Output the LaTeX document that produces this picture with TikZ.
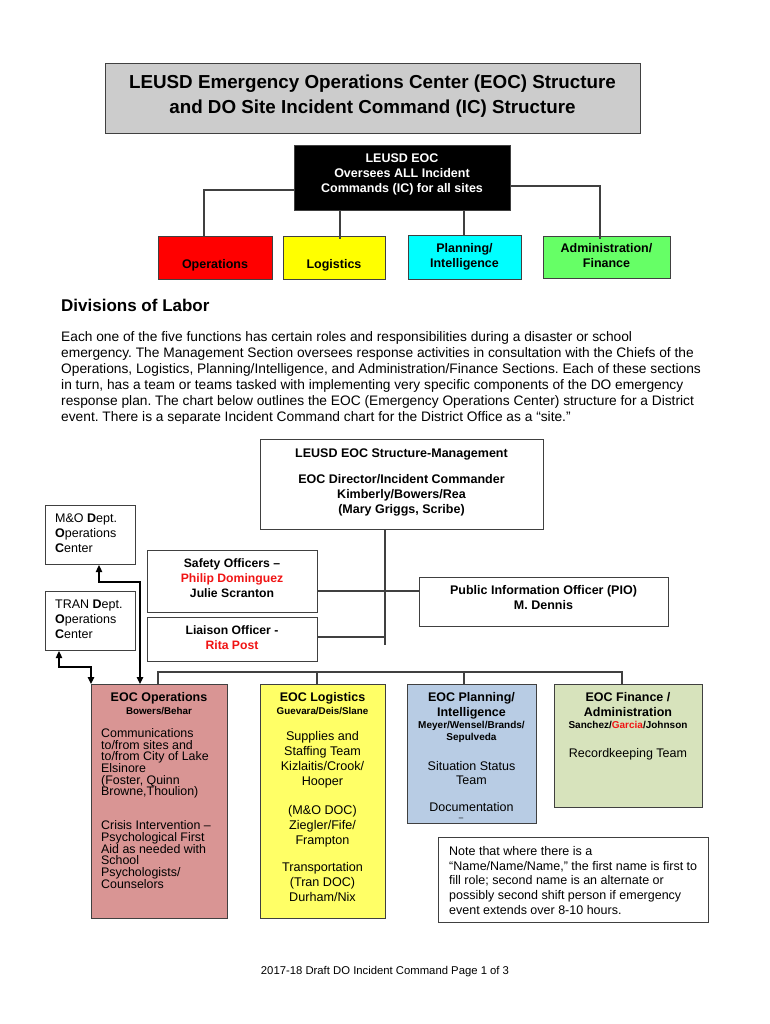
\documentclass[tikz,border=0pt]{standalone}
\usepackage{fontspec}
\setmainfont{Liberation Sans}
\usetikzlibrary{arrows.meta}
\definecolor{titlegray}{RGB}{204,204,204}
\definecolor{topred}{RGB}{255,0,0}
\definecolor{topyel}{RGB}{255,255,0}
\definecolor{topcyan}{RGB}{0,255,255}
\definecolor{topgreen}{RGB}{102,255,102}
\definecolor{opspink}{RGB}{217,149,148}
\definecolor{logyel}{RGB}{255,255,102}
\definecolor{planblue}{RGB}{184,204,228}
\definecolor{fingreen}{RGB}{215,227,188}
\definecolor{namered}{RGB}{240,20,20}
\newcommand\myfs[2]{\fontsize{#1}{#2}\selectfont\lineskiplimit=-20pt\relax}
\frenchspacing
\begin{document}
\begin{tikzpicture}[x=1pt,y=-1pt,
  boxst/.style={draw=black!75, line width=1.1pt, inner sep=0pt, anchor=north west},
  txt/.style={inner sep=0pt, anchor=north, align=center},
  ltxt/.style={inner sep=0pt, anchor=north west, align=left},
  conn/.style={draw=black!75, line width=1.1pt},
  arr/.style={draw=black, line width=1.1pt, {Triangle[length=7pt,width=6.5pt]}-{Triangle[length=7pt,width=6.5pt]}},
  bt/.style={font=\myfs{12.5}{15}\bfseries},
]
\useasboundingbox (0,0) rectangle (770,1024);

% Title
\node[boxst, fill=titlegray, minimum width=535pt, minimum height=70pt] (title) at (105,63) {};
\node[txt, font=\myfs{18.8}{24.5}\bfseries] (titletext) at (372.5,75) {LEUSD Emergency Operations Center (EOC) Structure\\and DO Site Incident Command (IC) Structure};

% Top chart
\node[boxst, fill=black, minimum width=216pt, minimum height=65pt] (eoc) at (294,145) {};
\node[txt, bt, text=white] (eoctext) at (402,153.2) {LEUSD EOC\\Oversees ALL Incident\\Commands (IC) for all sites};
\node[boxst, fill=topred, minimum width=114pt, minimum height=43pt] (ops1) at (158,236) {};
\node[txt, bt] (ops1text) at (215,259.4) {Operations};
\node[boxst, fill=topyel, minimum width=102pt, minimum height=43pt] (log1) at (283,236) {};
\node[txt, bt] (log1text) at (334,259.4) {Logistics};
\node[boxst, fill=topcyan, minimum width=113pt, minimum height=44pt] (plan1) at (408,235) {};
\node[txt, bt] (plan1text) at (464.5,243.4) {Planning/\\Intelligence};
\node[boxst, fill=topgreen, minimum width=127pt, minimum height=42pt] (adm1) at (543,236) {};
\node[txt, bt] (adm1text) at (606.5,243.4) {Administration/\\Finance};

\coordinate (t1) at (204,190);
\coordinate (t2) at (340,0);
\coordinate (t3) at (464,0);
\coordinate (t4) at (600,186);
\draw[conn] (eoc.west |- t1) -- (t1) -- (ops1.north -| t1);
\draw[conn] (eoc.south -| t2) -- ([yshift=-3pt]log1.north -| t2);
\draw[conn] (eoc.south -| t3) -- (plan1.north -| t3);
\draw[conn] (eoc.east |- t4) -- (t4) -- ([yshift=-3pt]adm1.north -| t4);

% Divisions of labor
\node[ltxt, font=\myfs{17}{20}\bfseries] (head) at (61,298.7) {Divisions of Labor};
\node[ltxt, font=\myfs{13.75}{16}] (para) at (61,331) {Each one of the five functions has certain roles and responsibilities during a disaster or school\\
emergency. The Management Section oversees response activities in consultation with the Chiefs of the\\
Operations, Logistics, Planning/Intelligence, and Administration/Finance Sections. Each of these sections\\
in turn, has a team or teams tasked with implementing very specific components of the DO emergency\\
response plan. The chart below outlines the EOC (Emergency Operations Center) structure for a District\\
event. There is a separate Incident Command chart for the District Office as a “site.”};

% Management
\node[boxst, minimum width=283pt, minimum height=90pt] (mgmt) at (260,439) {};
\node[txt, bt] (mgmttext) at (401.5,448.4) {LEUSD EOC Structure-Management\\[11pt]EOC Director/Incident Commander\\Kimberly/Bowers/Rea\\(Mary Griggs, Scribe)};

\node[boxst, minimum width=90pt, minimum height=59pt] (mo) at (45,505) {};
\node[ltxt, font=\myfs{12.5}{15}] (motext) at (55,513.4) {M\&O \textbf{D}ept.\\\textbf{O}perations\\\textbf{C}enter};
\node[boxst, minimum width=90pt, minimum height=59pt] (tran) at (45,591) {};
\node[ltxt, font=\myfs{12.5}{15}] (trantext) at (55,599.4) {TRAN \textbf{D}ept.\\\textbf{O}perations\\\textbf{C}enter};

\node[boxst, minimum width=170pt, minimum height=62pt] (safety) at (147,550) {};
\node[txt, font=\myfs{12.2}{15}\bfseries] (safetytext) at (232,558.5) {Safety Officers –\\\textcolor{namered}{Philip Dominguez}\\Julie Scranton};
\node[boxst, minimum width=170pt, minimum height=44pt] (liaison) at (147,617) {};
\node[txt, font=\myfs{12.2}{15}\bfseries] (liaisontext) at (232,625.5) {Liaison Officer -\\\textcolor{namered}{Rita Post}};
\node[boxst, minimum width=249pt, minimum height=49pt] (pio) at (419,577) {};
\node[txt, bt] (piotext) at (543.5,585.4) {Public Information Officer (PIO)\\M. Dennis};

\coordinate (j1) at (385,591);
\coordinate (j2) at (385,637);
\coordinate (j3) at (385,645);
\draw[conn] (mgmt.south -| j1) -- (j3);
\draw[conn] (safety.east |- j1) -- (pio.west |- j1);
\draw[conn] (liaison.east |- j2) -- (j2);

% Bottom sections
\node[boxst, fill=opspink, minimum width=136pt, minimum height=234pt] (opsb) at (91,684) {};
\node[boxst, fill=logyel, minimum width=125pt, minimum height=234pt] (logb) at (260,684) {};
\node[boxst, fill=planblue, minimum width=129pt, minimum height=139pt] (planb) at (407,684) {};
\node[boxst, fill=fingreen, minimum width=148pt, minimum height=123pt] (finb) at (554,684) {};
\node[boxst, minimum width=270pt, minimum height=85pt] (note) at (438,837) {};

\coordinate (d1) at (158,672);
\coordinate (d2) at (317,672);
\coordinate (d3) at (464,672);
\coordinate (d4) at (622,672);
\draw[conn] (opsb.north -| d1) -- (d1) -- (d4) -- (finb.north -| d4);
\draw[conn] (d2) -- (logb.north -| d2);
\draw[conn] (d3) -- (planb.north -| d3);

\coordinate (a1) at (99,582);
\coordinate (a2) at (140,582);
\draw[arr] (mo.south -| a1) -- (a1) -- (a2) -- (opsb.north -| a2);
\coordinate (b1) at (59,667);
\coordinate (b2) at (91,667);
\draw[arr] (tran.south -| b1) -- (b1) -- (b2) -- (opsb.north -| b2);

\node[txt, bt] (opsT) at (159,692.4) {EOC Operations};
\node[txt, font=\myfs{9.8}{12}\bfseries] (opsN) at (159,707.4) {Bowers/Behar};
\node[ltxt, font=\myfs{12.4}{11.67}] (opsB) at (101,728.4) {Communications\\to/from sites and\\to/from City of Lake\\Elsinore\\(Foster, Quinn\\Browne,Thoulion)\\[22.3pt]Crisis Intervention –\\Psychological First\\Aid as needed with\\School\\Psychologists/\\Counselors};

\node[txt, bt] (logT) at (322.5,692.4) {EOC Logistics};
\node[txt, font=\myfs{9.8}{12}\bfseries] (logN) at (322.5,707.4) {Guevara/Deis/Slane};
\node[txt, font=\myfs{12.6}{14.8}] (logB) at (322.5,731.4) {Supplies and\\Staffing Team\\Kizlaitis/Crook/\\Hooper\\[14.8pt](M\&O DOC)\\Ziegler/Fife/\\Frampton\\[12.4pt]Transportation\\(Tran DOC)\\Durham/Nix};

\node[txt, bt] (planT) at (471.5,692.4) {EOC Planning/\\Intelligence};
\node[txt, font=\myfs{10}{12}\bfseries] (planN) at (471.5,721.3) {Meyer/Wensel/Brands/\\Sepulveda};
\node[txt, font=\myfs{12.5}{14}] (planB) at (471.5,761.4) {Situation Status\\Team\\[13pt]Documentation};
\node[inner sep=0pt, font=\myfs{8}{10}] (planDash) at (461,819.5) {–};

\node[txt, bt] (finT) at (628,692.4) {EOC Finance /\\Administration};
\node[txt, font=\myfs{10}{12}\bfseries] (finN) at (628,721.3) {Sanchez/\textcolor{namered}{Garcia}/Johnson};
\node[txt, font=\myfs{12.5}{14}] (finB) at (628,748.4) {Recordkeeping Team};

\node[ltxt, font=\myfs{12.5}{14.6}] (notetext) at (449,846.4) {Note that where there is a\\“Name/Name/Name,” the first name is first to\\fill role; second name is an alternate or\\possibly second shift person if emergency\\event extends over 8-10 hours.};

\node[txt, font=\myfs{11.3}{13}] (footer) at (385,965.8) {2017-18 Draft DO Incident Command Page 1 of 3};
\end{tikzpicture}
\end{document}
